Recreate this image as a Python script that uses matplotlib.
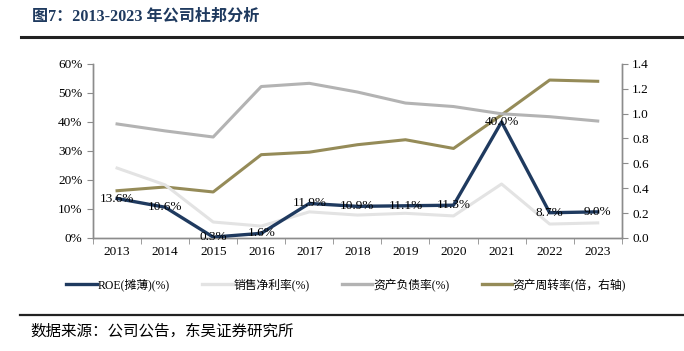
import matplotlib.pyplot as plt
import numpy as np
from matplotlib.lines import Line2D

plt.rcParams['font.family'] = ['Liberation Serif', 'Noto Sans CJK SC']

years = ["2013", "2014", "2015", "2016", "2017", "2018", "2019", "2020", "2021", "2022", "2023"]
roe = [13.6, 10.6, 0.3, 1.6, 11.9, 10.9, 11.1, 11.3, 40.0, 8.7, 9.0]
net_margin = [24.1, 18.3, 5.5, 4.1, 9.0, 7.9, 8.5, 7.6, 18.6, 4.8, 5.2]
debt_ratio = [39.3, 36.9, 34.8, 52.2, 53.3, 50.3, 46.5, 45.3, 42.8, 41.8, 40.3]
turnover = [0.38, 0.41, 0.37, 0.67, 0.69, 0.75, 0.79, 0.72, 0.99, 1.27, 1.26]

c_roe = '#1f3a5f'
c_margin = '#e3e3e3'
c_debt = '#b3b3b3'
c_turn = '#958b58'
spine_c = '#8c8c8c'

fig = plt.figure(figsize=(6.84, 3.51), dpi=100)
ax = fig.add_axes([0.136, 0.322, 0.773, 0.496])
ax2 = ax.twinx()

x = np.arange(len(years))
ax.plot(x, net_margin, color=c_margin, lw=2.2, zorder=2)
ax.plot(x, debt_ratio, color=c_debt, lw=2.2, zorder=2)
ax.plot(x, roe, color=c_roe, lw=2.4, zorder=4)
ax2.plot(x, turnover, color=c_turn, lw=2.2)

ax.set_zorder(ax2.get_zorder() + 1)
ax.patch.set_visible(False)

# ROE value labels sit right on the points
for xi, v in zip(x, roe):
    ax.text(xi, v, f"{v:.1f}%", ha='center', va='center', fontsize=9.5, zorder=5)

ax.set_xlim(-0.5, len(years) - 0.5)
ax.set_ylim(0, 60)
ax.set_yticks(range(0, 61, 10))
ax.set_yticklabels([f"{v}%" for v in range(0, 61, 10)])
ax.set_xticks(x)
ax.set_xticklabels(years)
ax.set_xticks(np.arange(-0.5, len(years), 1), minor=True)
ax.tick_params(axis='x', which='major', length=0, pad=6, labelsize=9.5)
ax.tick_params(axis='x', which='minor', length=4, color=spine_c)
ax.tick_params(axis='y', length=4, color=spine_c, labelsize=9.5)

ax2.set_ylim(0, 1.4)
ax2.set_yticks(np.arange(0, 1.41, 0.2))
ax2.set_yticklabels([f"{v:.1f}" for v in np.arange(0, 1.41, 0.2)])
ax2.tick_params(axis='y', length=4, color=spine_c, labelsize=9.5)

for a in (ax, ax2):
    a.spines['top'].set_visible(False)
    for s in ('left', 'right', 'bottom'):
        a.spines[s].set_color(spine_c)
        a.spines[s].set_linewidth(1.0)

handles = [
    Line2D([], [], color=c_roe, lw=2.4),
    Line2D([], [], color=c_margin, lw=2.4),
    Line2D([], [], color=c_debt, lw=2.4),
    Line2D([], [], color=c_turn, lw=2.4),
]
labels = ["ROE(摊薄)(%)", "销售净利率(%)", "资产负债率(%)", "资产周转率(倍，右轴)"]
fig.legend(handles, labels, loc='center', bbox_to_anchor=(0.506, 0.188), ncol=4,
           frameon=False, fontsize=8.5, handlelength=2.6, handletextpad=0.05,
           columnspacing=2.75)

fig.text(0.047, 0.952, "图7：2013-2023 年公司杜邦分析", fontsize=11.6, fontweight='bold',
         color='#1f3a5f', va='center')
fig.add_artist(Line2D([0.031, 1.0], [0.896, 0.896], color='#222222', lw=2.2,
                      transform=fig.transFigure))
fig.add_artist(Line2D([0.029, 1.0], [0.103, 0.103], color='#222222', lw=1.6,
                      transform=fig.transFigure))
fig.text(0.044, 0.055, "数据来源：公司公告，东吴证券研究所", fontsize=11.2, va='center')

fig.savefig("out.png", dpi=100)
